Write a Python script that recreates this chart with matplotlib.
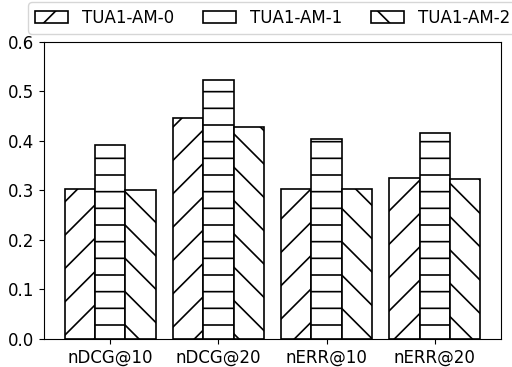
import matplotlib
matplotlib.use("Agg")
import matplotlib.pyplot as plt
import numpy as np

plt.rcParams["font.size"] = 12
plt.rcParams["hatch.linewidth"] = 1.2

metrics = ["nDCG@10", "nDCG@20", "nERR@10", "nERR@20"]
runs = ["TUA1-AM-0", "TUA1-AM-1", "TUA1-AM-2"]
am0 = [0.304, 0.447, 0.304, 0.325]
am1 = [0.391, 0.524, 0.405, 0.417]
am2 = [0.302, 0.429, 0.303, 0.324]
hatches = ["/", "-", "\\"]

fig = plt.figure(figsize=(5.12, 3.67), dpi=100)
ax = fig.add_axes([0.0859, 0.0763, 0.8926, 0.8093])

x = np.arange(len(metrics))
width = 0.28
for i, (vals, name, h) in enumerate(zip([am0, am1, am2], runs, hatches)):
    ax.bar(x + (i - 1) * width, vals, width, color="white", edgecolor="black",
           hatch=h, label=name, linewidth=1.2)

ax.set_xticks(x)
ax.set_xticklabels(metrics)
ax.set_ylim(0, 0.6)
ax.set_yticks([0.0, 0.1, 0.2, 0.3, 0.4, 0.5, 0.6])
ax.legend(loc="lower center", bbox_to_anchor=(0.5, 1.0), ncol=3,
          columnspacing=1.75)

fig.savefig("out.png", dpi=100)
